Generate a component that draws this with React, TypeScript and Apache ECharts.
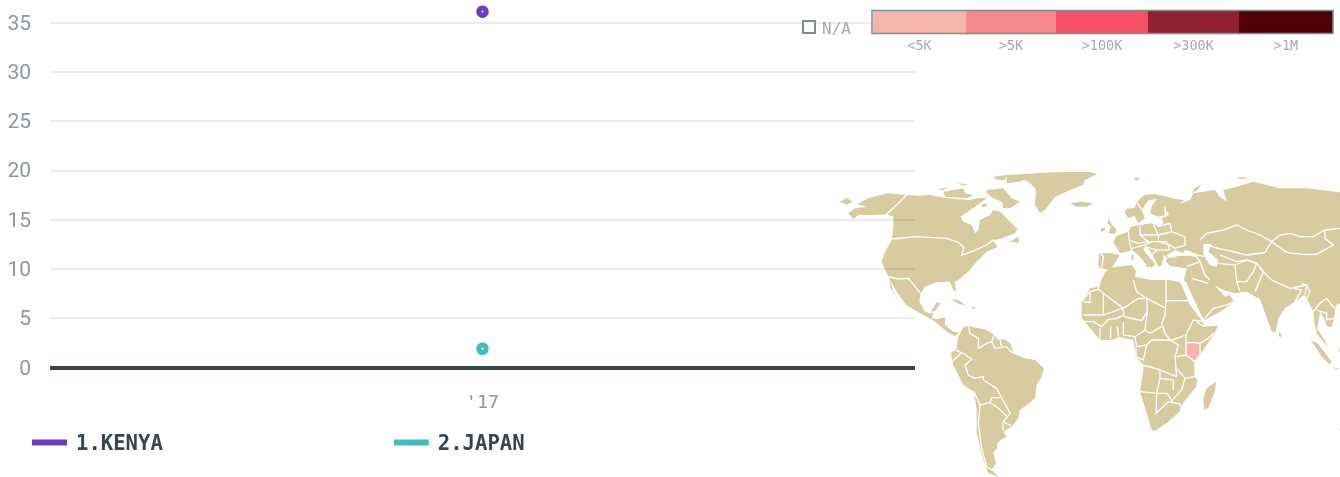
import React, { useEffect, useRef } from "react";
import * as echarts from "echarts";

const categories = ["'17"];
const kenyaValues = [36.1];
const japanValues = [1.9];
const seriesNames = ["1.KENYA", "2.JAPAN"];
const seriesColors = ["#6B3CC4", "#43BBBB"];
const binLabels = ["<5K", ">5K", ">100K", ">300K", ">1M"];
const binColors = ["#F6B5AC", "#F4888A", "#F35063", "#93212F", "#510008"];
const binEdges = [873, 966, 1056, 1148, 1239, 1333];

type P = number[][];
const off = (ox: number, oy: number) => (pts: P): P => pts.map(([x, y]) => [ox + x / 3, oy + y / 3]);
const A = off(830, 165);
const B = off(1080, 165);
const C = off(920, 320);
const D = off(1260, 270);
const E = off(1095, 185);
const F = off(1080, 280);

const land: P[] = [
  // North + Central America
  [...A([[80,118],[115,100],[170,85],[228,90],[265,92],[300,90],[340,98],[415,105],[445,100],[470,98],[455,112],[420,135],[392,155],[400,170],[425,180],[435,205],[445,195],[450,165],[480,150],[490,135],[510,140],[535,165],[562,192],[555,205],[510,222],[490,225],[505,245],[470,260],[440,290],[415,320],[385,345],[375,350],[378,380],[370,375],[360,350],[320,352],[285,365],[272,385],[268,410],[285,440],[300,445],[320,412],[332,415],[310,445],[305,462],[345,458]]),
   ...C([[75,15],[100,35],[118,38],[105,48],[85,38],[60,18],[45,5]]),
   ...A([[228,420],[195,372],[175,335],[155,290],[165,260],[185,225],[190,190],[190,155],[170,148],[135,150],[85,150],[70,162],[55,145],[75,130],[110,125]])],
  A([[30,110],[50,98],[68,110],[50,120]]),
  A([[178,335],[188,375],[198,398],[182,370]]),
  A([[362,402],[385,405],[405,420],[390,418]]),
  A([[420,425],[438,428],[430,432]]),
  A([[340,80],[400,70],[405,85],[430,90],[410,100],[345,95]]),
  A([[320,75],[360,65],[340,75]]),
  A([[380,55],[415,58],[400,62]]),
  A([[470,75],[520,70],[545,100],[570,110],[540,130],[520,130],[515,110],[490,100],[470,85]]),
  A([[490,35],[530,30],[525,45],[500,45]]),
  A([[530,30],[620,25],[570,50],[530,55]]),
  A([[455,118],[470,115],[470,125],[455,125]]),
  A([[540,230],[565,215],[568,233]]),
  // Greenland
  [[1023,179],[1037,173],[1063,172],[1090,172],[1097,174],[1085,180],[1083,185],[1070,190],[1055,197],[1045,210],[1040,213],[1035,205],[1036,190],[1030,183]],
  B([[-30,115],[0,110],[40,115],[20,125],[-10,125]]),
  // South America
  C([[115,50],[130,22],[145,18],[160,22],[195,28],[220,42],[235,60],[255,58],[272,72],[280,100],[290,105],[315,115],[345,120],[372,145],[365,170],[350,195],[345,235],[320,255],[300,270],[295,295],[275,320],[250,335],[260,350],[235,365],[230,385],[220,400],[228,430],[215,450],[235,470],[205,460],[190,420],[180,380],[170,340],[170,270],[162,215],[130,195],[100,135],[92,100],[110,85]]),
  // Africa
  F([[5,65],[30,25],[55,20],[75,-23],[90,-37],[110,-40],[155,-45],[168,-27],[165,-10],[215,0],[262,0],[298,5],[305,15],[330,75],[368,125],[372,140],[415,137],[400,165],[360,225],[345,245],[345,290],[352,300],[348,320],[318,358],[302,380],[298,395],[265,425],[225,452],[215,450],[200,400],[180,335],[190,270],[190,255],[168,230],[160,180],[120,172],[95,180],[60,180],[35,150],[5,115]]),
  C([[888,185],[885,210],[865,265],[852,268],[850,235],[860,205]]),
  // Eurasia
  [...E([[75,205],[55,170],[65,152],[100,140],[108,125],[135,120],[170,115],[190,125],[205,115],[200,100],[212,95],[222,88],[210,66]]),
   ...B([[290,120],[330,105],[340,85],[405,75],[420,95],[440,110],[430,75],[470,65],[520,50],[600,70],[680,70],[780,82],[800,85],[800,380]]),
   ...D([[240,100],[228,105],[226,120],[222,145],[215,172],[200,168],[190,140],[180,125],[172,178],[195,212],[204,232],[188,212],[170,190],[162,150],[160,125],[140,85],[132,75],[118,85],[105,95],[75,115],[55,145],[47,185],[35,185],[10,115],[0,88]]),
   ...B([[500,380],[465,385],[430,375],[405,362],[390,347],[420,378],[435,395],[450,390],[462,410],[420,440],[375,465],[370,462],[345,410],[320,355],[312,345]]),
   ...E([[275,250],[225,243],[212,228],[218,218],[205,210],[205,220],[200,240],[190,245],[175,215],[165,195],[150,185],[145,195],[170,225],[182,238],[170,248],[150,235],[130,210],[112,195],[95,200]])],
  E([[12,205],[55,205],[75,208],[60,235],[45,255],[15,250],[10,240]]),
  E([[90,85],[92,72],[120,68],[125,50],[148,30],[175,27],[205,32],[240,42],[268,45],[250,60],[222,65],[212,90],[190,95],[165,85],[172,60],[185,42],[160,45],[140,75],[150,100],[130,115],[118,92],[100,100]]),
  E([[40,100],[48,115],[65,135],[60,147],[40,145],[48,125],[38,115]]),
  E([[15,135],[28,125],[30,135],[20,142]]),
  E([[110,210],[116,210],[116,225],[110,225]]),
  E([[150,240],[165,240],[160,248]]),
  B([[335,85],[345,70],[365,57],[352,75]]),
  B([[160,40],[180,38],[170,48]]),
  B([[470,35],[510,40],[480,42]]),
  D([[152,210],[175,222],[215,275],[210,285],[185,260]]),
  D([[215,290],[240,297],[230,298]]),
  D([[57,185],[65,195],[62,203],[57,198]]),
  D([[237,235],[242,235],[242,247],[237,245]]),
  D([[236,480],[242,478],[242,484]]),
];

const water: P[] = [
  E([[215,212],[225,205],[240,195],[255,200],[265,205],[268,195],[285,198],[312,218],[285,212],[250,213],[225,220]]),
  B([[370,238],[395,237],[385,260],[415,285],[410,305],[390,300],[370,270]]),
  F([[272,418],[280,416],[279,424],[270,428],[267,424]]),
];

const borders: P[] = [
  // North America
  A([[170,148],[230,90]]),
  A([[185,222],[260,215],[350,220],[385,232],[402,248],[395,270],[420,262],[470,240],[490,225],[505,245]]),
  A([[175,335],[205,342],[235,340],[250,358],[272,385]]),
  A([[300,445],[310,440],[322,462]]),
  // South America
  C([[145,20],[150,40],[175,55],[175,85]]),
  C([[175,85],[200,70],[215,65],[225,85],[260,80],[272,95],[285,100]]),
  C([[215,65],[222,45]]),
  C([[245,80],[240,60]]),
  C([[100,88],[130,100],[155,118],[135,135],[145,165],[165,175]]),
  C([[165,175],[190,170],[190,180],[230,205],[240,225],[260,260],[270,280],[250,305],[275,318]]),
  C([[95,125],[125,98]]),
  C([[162,215],[180,255],[175,310],[185,385],[200,440],[215,450]]),
  C([[180,255],[210,247],[235,265],[262,290]]),
  C([[210,247],[215,232],[240,233]]),
  C([[248,308],[250,332]]),
  // Africa
  F([[258,0],[258,62],[325,62]]),
  F([[258,62],[255,105],[245,130],[255,160],[272,182]]),
  F([[160,0],[170,35],[200,55],[258,85]]),
  F([[70,40],[130,85],[175,55],[200,55]]),
  F([[5,65],[30,35],[55,28],[60,0]]),
  F([[55,28],[70,40]]),
  F([[30,35],[30,68],[10,65]]),
  F([[70,40],[70,105],[10,105]]),
  F([[70,105],[128,85],[132,105],[110,115],[85,118],[65,140],[40,125],[10,125]]),
  F([[132,110],[185,122],[202,95],[200,55]]),
  F([[202,95],[195,150],[210,160],[245,140]]),
  F([[130,125],[130,165],[165,170],[195,150]]),
  F([[60,145],[60,180]]),
  F([[92,140],[92,178]]),
  F([[112,140],[115,172]]),
  F([[165,170],[170,200],[200,195],[215,180],[270,180],[295,195],[285,230],[290,290]]),
  F([[168,205],[168,230],[190,240],[200,195]]),
  F([[272,182],[318,165],[340,120],[370,125]]),
  F([[318,165],[318,188]]),
  F([[360,190],[385,175],[400,160]]),
  F([[372,140],[350,125]]),
  F([[290,230],[318,225],[345,245],[345,290],[315,295],[290,265]]),
  F([[185,255],[215,262],[240,270],[240,295],[280,300],[280,330]]),
  F([[180,335],[230,340],[240,295]]),
  F([[240,270],[290,290]]),
  F([[230,340],[262,340],[275,362],[305,330],[315,295]]),
  F([[230,340],[228,400],[265,365],[300,372],[302,380]]),
  // Europe
  E([[100,140],[105,180],[110,195]]),
  E([[100,165],[130,175],[160,170],[135,150],[135,122]]),
  E([[135,150],[190,150],[175,120]]),
  E([[190,125],[225,115],[230,140],[190,150]]),
  E([[190,150],[190,170],[225,180],[240,190],[270,180],[270,155],[230,140]]),
  E([[110,190],[150,180],[170,170],[215,170],[225,195]]),
  E([[185,195],[225,195]]),
  E([[150,185],[185,195],[170,210]]),
  E([[15,205],[25,215],[20,250]]),
  E([[55,205],[75,208]]),
  E([[210,66],[212,95]]),
  E([[140,75],[125,50]]),
  // Asia
  B([[360,225],[380,205],[430,195],[470,180],[500,195],[540,210],[575,230],[600,210],[630,205],[660,215],[700,215],[735,195],[780,190]]),
  B([[575,230],[620,262],[665,268],[710,268],[760,240],[735,220],[735,195]]),
  B([[375,238],[415,250],[460,260],[500,270],[555,262],[575,230]]),
  B([[420,270],[470,290],[500,285],[530,295]]),
  B([[415,295],[465,300],[470,350],[480,380]]),
  B([[345,270],[360,290],[345,295],[320,305]]),
  B([[360,290],[375,330],[390,345]]),
  B([[465,300],[500,285],[530,295],[520,320],[500,350],[470,350]]),
  B([[530,295],[550,320],[525,380]]),
  B([[540,310],[575,345],[630,370],[680,360],[690,380],[670,420]]),
  B([[335,340],[385,355]]),
  B([[370,465],[400,430],[440,420],[462,410]]),
  B([[340,265],[370,275]]),
  D([[100,55],[125,60],[105,95]]),
  D([[160,125],[180,100],[200,85],[215,105],[225,115]]),
  D([[170,120],[200,130],[200,150],[222,145]]),
  D([[135,75],[140,45],[125,40]]),
];

const kenya: P = F([[318,188],[345,188],[360,190],[360,225],[345,245],[318,225]]);

const LAND = "#D8CB9F";
const MONO = "'DejaVu Sans Mono', monospace";
const TICK = "#8E979C";

export default function App() {
  const ref = useRef<HTMLDivElement>(null);
  useEffect(() => {
    document.body.style.margin = "0";
    const chart = echarts.init(ref.current!, null, { renderer: "svg" });
    const mapEls: any[] = [
      ...land.map((p) => ({ type: "polygon", z: -2, shape: { points: p }, style: { fill: LAND } })),
      ...water.map((p) => ({ type: "polygon", z: -2, z2: 1, shape: { points: p }, style: { fill: "#fff" } })),
      ...borders.map((p) => ({ type: "polyline", z: -2, z2: 2, shape: { points: p }, style: { fill: null, stroke: "#fff", lineWidth: 1.3 } })),
      { type: "polygon", z: -2, z2: 3, shape: { points: kenya }, style: { fill: binColors[0], stroke: "#fff", lineWidth: 1.3 } },
    ];
    const binEls: any[] = [];
    binLabels.forEach((label, i) => {
      binEls.push({ type: "rect", z: 5, shape: { x: binEdges[i], y: 11, width: binEdges[i + 1] - binEdges[i], height: 22 }, style: { fill: binColors[i] } });
      binEls.push({ type: "text", z: 5, x: (binEdges[i] + binEdges[i + 1]) / 2, y: 45, style: { text: label, fill: "#A3ABAF", font: `13.5px ${MONO}`, textAlign: "center", textVerticalAlign: "middle" } });
    });
    binEls.push({ type: "rect", z: 5, z2: 2, shape: { x: 872, y: 10.5, width: 461, height: 23 }, style: { fill: null, stroke: "#7F8C94", lineWidth: 1.5 } });
    binEls.push({ type: "rect", z: 5, shape: { x: 803, y: 21, width: 12, height: 12 }, style: { fill: "#fff", stroke: "#7F8C94", lineWidth: 2 } });
    binEls.push({ type: "text", z: 5, x: 822, y: 28, style: { text: "N/A", fill: "#A3ABAF", font: `16px ${MONO}`, textVerticalAlign: "middle" } });

    chart.setOption({
      animation: false,
      grid: { left: 50, right: 425, top: 22.5, bottom: 109.5 },
      legend: {
        data: seriesNames,
        left: 27,
        top: 427,
        icon: "rect",
        itemWidth: 35,
        itemHeight: 6,
        itemGap: 231,
        selectedMode: false,
        textStyle: { fontFamily: MONO, fontWeight: "bold", fontSize: 20.6, color: "#36454F", padding: [0, 0, 0, 4] },
      },
      xAxis: {
        type: "category",
        data: categories,
        axisTick: { show: false },
        axisLine: { lineStyle: { color: "#36454F", width: 4, cap: "butt" } },
        axisLabel: { color: TICK, fontFamily: MONO, fontSize: 18.5, margin: 24 },
      },
      yAxis: {
        type: "value",
        min: 0,
        max: 35,
        interval: 5,
        axisLine: { show: false },
        axisTick: { show: false },
        axisLabel: { color: TICK, fontFamily: "Roboto", fontSize: 21, margin: 19 },
        splitLine: { lineStyle: { color: "rgba(0,0,0,0.08)", width: 2 } },
      },
      series: [
        { name: seriesNames[0], type: "line", data: kenyaValues, clip: false, symbol: "circle", symbolSize: 12.5, itemStyle: { color: seriesColors[0] } },
        { name: seriesNames[1], type: "line", data: japanValues, clip: false, symbol: "circle", symbolSize: 12.5, itemStyle: { color: seriesColors[1] } },
        { name: "kenya-centre", type: "scatter", data: kenyaValues, clip: false, symbolSize: 2, z: 5, itemStyle: { color: "#fff" }, silent: true },
        { name: "japan-centre", type: "scatter", data: japanValues, clip: false, symbolSize: 2, z: 5, itemStyle: { color: "#fff" }, silent: true },
      ],
      graphic: { elements: [...mapEls, ...binEls] },
    });
    return () => chart.dispose();
  }, []);
  return <div ref={ref} style={{ position: "fixed", left: 0, top: 0, width: 1340, height: 477 }} />;
}
